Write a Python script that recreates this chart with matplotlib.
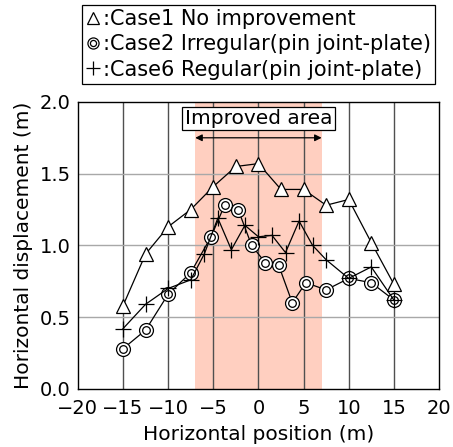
import numpy as np
import matplotlib
matplotlib.use('Agg')
import matplotlib.pyplot as plt
from matplotlib.path import Path

plt.rcParams['font.family'] = ['DejaVu Sans']

# horizontal displacement along the section
case1_x = [-15, -12.5, -10, -7.5, -5, -2.5, 0, 2.5, 5, 7.5, 10, 12.5, 15]
case1_y = [0.58, 0.94, 1.13, 1.25, 1.41, 1.55, 1.57, 1.39, 1.39, 1.28, 1.32, 1.02, 0.73]

case2_x = [-15, -12.5, -10, -7.5, -5.25, -3.75, -2.25, -0.75, 0.75, 2.25, 3.75, 5.25, 7.5, 10, 12.5, 15]
case2_y = [0.28, 0.41, 0.66, 0.81, 1.06, 1.28, 1.25, 1.00, 0.88, 0.86, 0.60, 0.74, 0.69, 0.77, 0.74, 0.62]

case6_x = [-15, -12.5, -10, -7.5, -6, -4.5, -3, -1.5, 0, 1.5, 3, 4.5, 6, 7.5, 10, 12.5, 15]
case6_y = [0.42, 0.59, 0.70, 0.76, 0.94, 1.19, 0.97, 1.14, 1.06, 1.07, 0.95, 1.17, 1.00, 0.90, 0.77, 0.85, 0.62]

improved = (-7, 7)
labels = [':Case1 No improvement', ':Case2 Irregular(pin joint-plate)', ':Case6 Regular(pin joint-plate)']

# double circle marker
dbl_circle = Path.make_compound_path(Path.circle((0, 0), 1.0), Path.circle((0, 0), 0.55))

fig = plt.figure(figsize=(4.53, 4.47), dpi=100)
ax = fig.add_axes([0.172, 0.130, 0.797, 0.642])

ax.axvspan(improved[0], improved[1], color='#ffcfc0', lw=0, zorder=0)
for xv in np.arange(-15, 20, 5):
    ax.axvline(xv, color='#505050', lw=1.0, zorder=1)
for yv in np.arange(0.5, 2.0, 0.5):
    ax.axhline(yv, color='#a8a8a8', lw=1.0, zorder=1)

h1, = ax.plot(case1_x, case1_y, color='black', lw=0.9, marker='^', ms=10,
              mfc='white', mec='black', mew=0.9, zorder=3)
h2, = ax.plot(case2_x, case2_y, color='black', lw=0.9, marker=dbl_circle, ms=10,
              mfc='white', mec='black', mew=0.9, zorder=3)
h6, = ax.plot(case6_x, case6_y, color='black', lw=0.9, marker='+', ms=12,
              mew=0.9, zorder=3)

# improved area label with double arrow
ax.annotate('', xy=(improved[0], 1.75), xytext=(improved[1], 1.75),
            arrowprops=dict(arrowstyle='<|-|>', color='black', lw=0.9,
                            mutation_scale=10, shrinkA=0, shrinkB=0), zorder=5)
ax.text(0, 1.885, 'Improved area', ha='center', va='center', fontsize=14.5, zorder=6,
        bbox=dict(boxstyle='square,pad=0.12', fc='white', ec='black', lw=0.9))

ax.set_xlim(-20, 20)
ax.set_ylim(0, 2.0)
ax.set_xticks(np.arange(-20, 25, 5))
ax.set_yticks(np.arange(0, 2.5, 0.5))
ax.set_yticklabels(['0.0', '0.5', '1.0', '1.5', '2.0'])
ax.tick_params(length=0, labelsize=14, pad=5)
ax.tick_params(axis='x', pad=7)
ax.set_xlabel('Horizontal position (m)', fontsize=14.5, labelpad=5)
ax.set_ylabel('Horizontal displacement (m)', fontsize=14.5, labelpad=5)
for s in ax.spines.values():
    s.set_linewidth(1.0)
    s.set_zorder(5)

leg = fig.legend([h1, h2, h6], labels, loc='upper left',
                 bbox_to_anchor=(0.181, 0.989), borderaxespad=0,
                 fontsize=15, handlelength=0.7, handletextpad=0.1,
                 labelspacing=0.25, borderpad=0.2, markerscale=0.8,
                 fancybox=False, edgecolor='black', framealpha=1)
leg.get_frame().set_linewidth(0.9)
for line in leg.get_lines():
    line.set_linestyle('none')

fig.savefig('out.png', dpi=100)
